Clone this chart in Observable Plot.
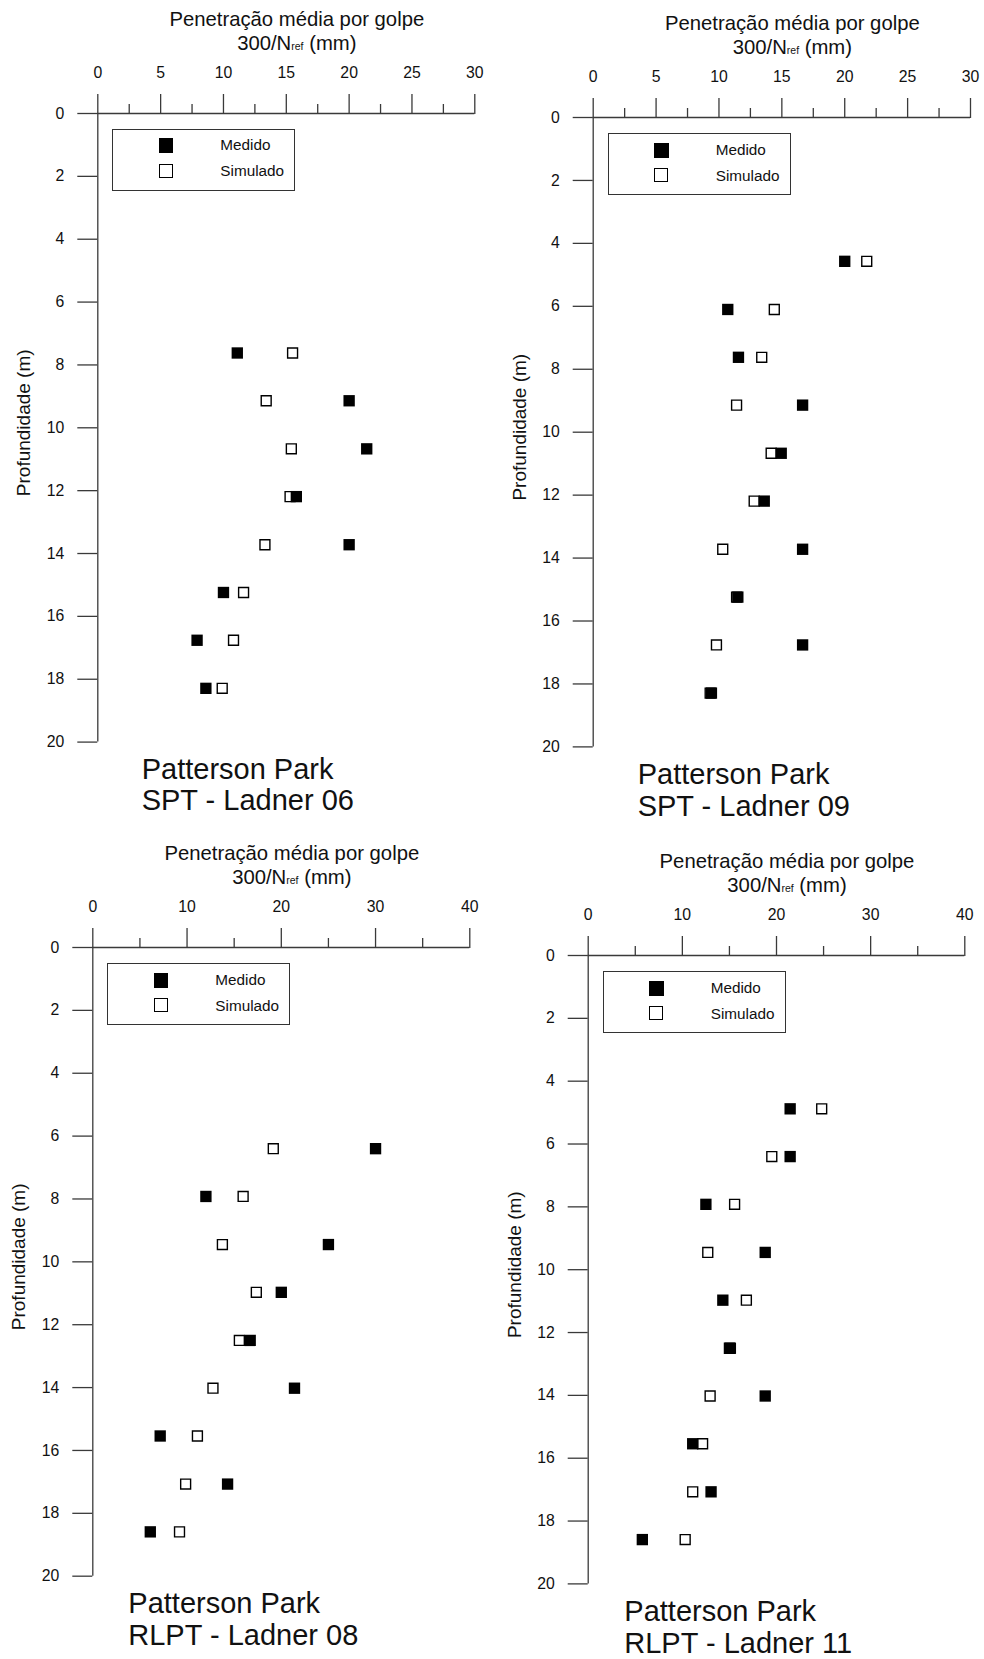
<!DOCTYPE html>
<html>
<head>
<meta charset="utf-8">
<script src="https://cdn.jsdelivr.net/npm/d3@7"></script>
<script src="https://cdn.jsdelivr.net/npm/@observablehq/plot@0.6"></script>
<style>
  body { margin: 0; background: #fff; }
  #root { position: relative; width: 984px; height: 1659px; overflow: hidden;
          font-family: 'Liberation Sans', Arial, Helvetica, sans-serif; color: #111; background: #fff; }
  .plotwrap { position: absolute; }
  .title { position: absolute; font-size: 20.3px; line-height: 24.3px; text-align: center;
           white-space: nowrap; transform: translateX(-50%); }
  .title .sub { font-size: 10.5px; }
  .legend { position: absolute; border: 1.3px solid #333; box-sizing: border-box; background: #fff; }
  .legend .sq { position: absolute; box-sizing: border-box; }
  .legend .lab { position: absolute; font-size: 15.3px; line-height: 18px; white-space: nowrap; }
  .caption { position: absolute; font-size: 29px; line-height: 31.5px; white-space: nowrap; }
</style>
</head>
<body>
<div id="root"></div>
<script>
// ---------------- data ----------------
const siteName = "Patterson Park";
const panelNames = ["SPT - Ladner 06", "SPT - Ladner 09", "RLPT - Ladner 08", "RLPT - Ladner 11"];
const seriesNames = ["Medido", "Simulado"];
const xTitleLine1 = "Penetração média por golpe";
const xTitleLine2Main = "300/N";
const xTitleLine2Sub = "ref";
const xTitleLine2End = " (mm)";
const yTitle = "Profundidade (m)";

const yTicks = [0, 2, 4, 6, 8, 10, 12, 14, 16, 18, 20];
const xTicks30 = [0, 5, 10, 15, 20, 25, 30];
const xMinor30 = [2.5, 7.5, 12.5, 17.5, 22.5, 27.5];
const xTicks40 = [0, 10, 20, 30, 40];
const xMinor40 = [5, 15, 25, 35];

// SPT - Ladner 06
const depth06    = [7.62, 9.14, 10.67, 12.19, 13.72, 15.24, 16.76, 18.29];
const medido06   = [11.1, 20.0, 21.4, 15.8, 20.0, 10.0, 7.9, 8.6];
const simulado06 = [15.5, 13.4, 15.4, 15.3, 13.3, 11.6, 10.8, 9.9];

// SPT - Ladner 09
const depth09    = [4.57, 6.10, 7.62, 9.14, 10.67, 12.19, 13.72, 15.24, 16.76, 18.29];
const medido09   = [20.0, 10.7, 11.55, 16.65, 14.95, 13.6, 16.65, 11.5, 16.65, 9.4];
const simulado09 = [21.75, 14.4, 13.4, 11.4, 14.15, 12.8, 10.3, 11.4, 9.8, 9.3];

// RLPT - Ladner 08
const depth08    = [6.40, 7.92, 9.45, 10.97, 12.50, 14.02, 15.54, 17.07, 18.59];
const medido08   = [30.0, 12.0, 25.0, 20.0, 16.7, 21.4, 7.15, 14.3, 6.1];
const simulado08 = [19.15, 15.95, 13.75, 17.35, 15.55, 12.75, 11.1, 9.85, 9.2];

// RLPT - Ladner 11
const depth11    = [4.88, 6.40, 7.92, 9.45, 10.97, 12.50, 14.02, 15.54, 17.07, 18.59];
const medido11   = [21.45, 21.45, 12.5, 18.8, 14.3, 15.1, 18.8, 11.1, 13.05, 5.75];
const simulado11 = [24.8, 19.5, 15.55, 12.7, 16.8, 15.0, 12.95, 12.15, 11.1, 10.3];

// ---------------- layout ----------------
const panels = [
  {name: panelNames[0], depth: depth06, med: medido06, sim: simulado06, xMax: 30, ticks: xTicks30, minor: xMinor30,
   col: 0, frame: {l: 97.3, t: 112.7, r: 474.3, b: 741.3}, capDx: 44.4},
  {name: panelNames[1], depth: depth09, med: medido09, sim: simulado09, xMax: 30, ticks: xTicks30, minor: xMinor30,
   col: 492, frame: {l: 592.7, t: 117.3, r: 970, b: 746.7}, capDx: 45},
  {name: panelNames[2], depth: depth08, med: medido08, sim: simulado08, xMax: 40, ticks: xTicks40, minor: xMinor40,
   col: 0, frame: {l: 92.3, t: 947, r: 469.3, b: 1575.7}, capDx: 36},
  {name: panelNames[3], depth: depth11, med: medido11, sim: simulado11, xMax: 40, ticks: xTicks40, minor: xMinor40,
   col: 492, frame: {l: 587.7, t: 955.3, r: 964.3, b: 1583.7}, capDx: 36.6},
];

const root = document.getElementById("root");
const lineColor = "#3a3a3a";

for (const p of panels) {
  const f = p.frame;
  const svgTop = f.t - 57;
  const svgLeft = p.col;
  const W = 492;
  const H = f.b - svgTop + 12;

  const medData = p.depth.map((d, i) => ({x: p.med[i], y: d}));
  const simData = p.depth.map((d, i) => ({x: p.sim[i], y: d}));

  const chart = Plot.plot({
    width: W,
    height: H,
    marginLeft: f.l - svgLeft,
    marginRight: svgLeft + W - f.r,
    marginTop: 57,
    marginBottom: 12,
    x: {domain: [0, p.xMax]},
    y: {domain: [0, 20], reverse: true},
    style: {fontFamily: "'Liberation Sans', Arial, sans-serif", fontSize: "15.8px", color: "#111",
            background: "transparent", overflow: "visible"},
    marks: [
      Plot.axisX(p.ticks, {anchor: "top", tickSize: 20, tickPadding: 15, stroke: lineColor, strokeWidth: 1.3,
                           fill: "#111", fontSize: 15.8, label: null}),
      Plot.axisX(p.minor, {anchor: "top", tickSize: 10, tickFormat: () => "", stroke: lineColor, strokeWidth: 1.3,
                           label: null}),
      Plot.axisY(yTicks, {anchor: "left", tickSize: 20, tickPadding: 13.5, stroke: lineColor, strokeWidth: 1.3,
                          fill: "#111", fontSize: 15.8, label: null}),
      Plot.ruleY([0], {stroke: lineColor, strokeWidth: 1.3}),
      Plot.ruleX([0], {y1: 0, y2: 20, stroke: lineColor, strokeWidth: 1.3}),
      Plot.text([yTitle], {text: d => d, frameAnchor: "left", rotate: -90, dx: -73.5, dy: -5,
                           fontSize: 19, fill: "#111", textAnchor: "middle", lineAnchor: "middle"}),
      Plot.dot(simData, {x: "x", y: "y", symbol: "square", r: 5.6, fill: "white", stroke: "black", strokeWidth: 1.4}),
      Plot.dot(medData, {x: "x", y: "y", symbol: "square", r: 6.4, fill: "black", stroke: "none"}),
    ]
  });

  const wrap = document.createElement("div");
  wrap.className = "plotwrap";
  wrap.style.left = svgLeft + "px";
  wrap.style.top = svgTop + "px";
  wrap.appendChild(chart);
  root.appendChild(wrap);

  // title above the axis
  const title = document.createElement("div");
  title.className = "title";
  title.style.left = ((f.l + f.r) / 2 + 11) + "px";
  title.style.top = (f.t - 106.2) + "px";
  const l1 = document.createElement("div");
  l1.textContent = xTitleLine1;
  const l2 = document.createElement("div");
  l2.append(xTitleLine2Main);
  const sub = document.createElement("span");
  sub.className = "sub";
  sub.textContent = xTitleLine2Sub;
  l2.append(sub);
  l2.append(xTitleLine2End);
  title.append(l1, l2);
  root.appendChild(title);

  // legend box
  const lg = document.createElement("div");
  lg.className = "legend";
  lg.style.left = (f.l + 15) + "px";
  lg.style.top = (f.t + 16) + "px";
  lg.style.width = "183px";
  lg.style.height = "62px";
  const s1 = document.createElement("div");
  s1.className = "sq";
  Object.assign(s1.style, {left: "45.5px", top: "8.8px", width: "14.7px", height: "15px", background: "#000"});
  const s2 = document.createElement("div");
  s2.className = "sq";
  Object.assign(s2.style, {left: "45.5px", top: "34.2px", width: "14px", height: "14px", background: "#fff",
                           border: "1.5px solid #000"});
  const t1 = document.createElement("div");
  t1.className = "lab";
  t1.textContent = seriesNames[0];
  Object.assign(t1.style, {left: "107px", top: "6.8px"});
  const t2 = document.createElement("div");
  t2.className = "lab";
  t2.textContent = seriesNames[1];
  Object.assign(t2.style, {left: "107px", top: "32.5px"});
  lg.append(s1, s2, t1, t2);
  root.appendChild(lg);

  // caption below
  const cap = document.createElement("div");
  cap.className = "caption";
  cap.style.left = (f.l + p.capDx) + "px";
  cap.style.top = (f.b + 12.5) + "px";
  const c1 = document.createElement("div");
  c1.textContent = siteName;
  const c2 = document.createElement("div");
  c2.textContent = p.name;
  cap.append(c1, c2);
  root.appendChild(cap);
}
</script>
</body>
</html>
